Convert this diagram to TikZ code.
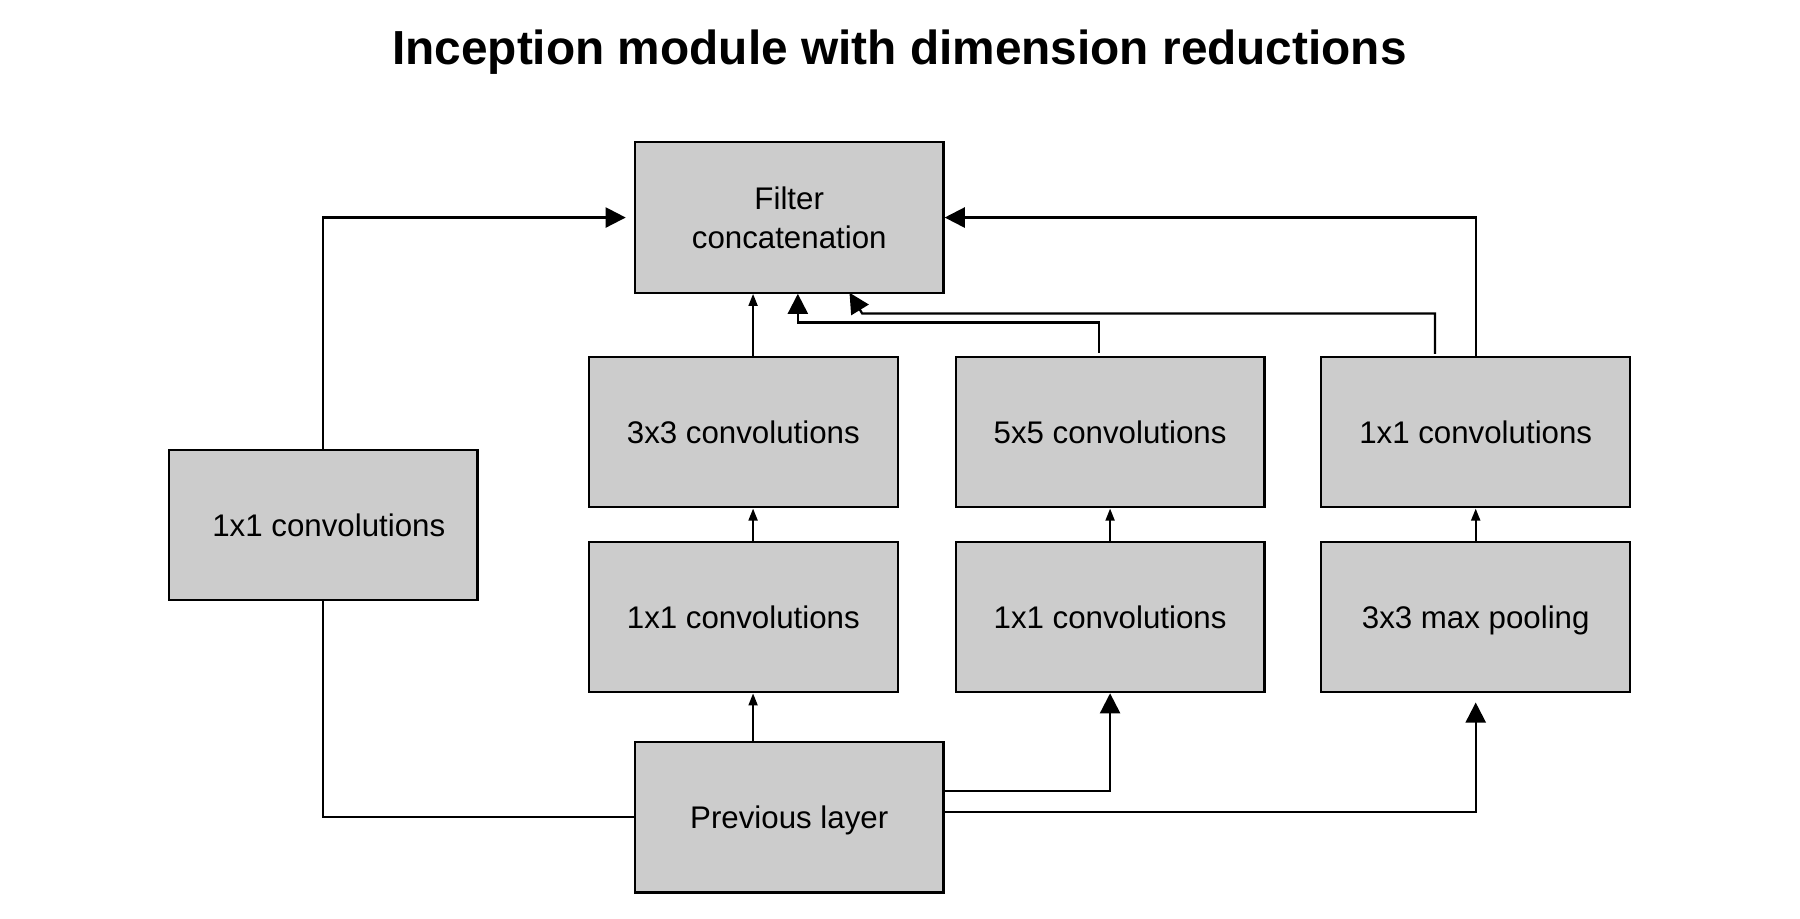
\documentclass[tikz,border=0pt]{standalone}
\usepackage{fontspec}
\setmainfont{Liberation Sans}
\usetikzlibrary{arrows.meta}
\definecolor{boxgray}{RGB}{204,204,204}
\begin{document}
\begin{tikzpicture}[x=0.02cm,y=-0.02cm,
  box/.style={draw=black, line width=1.1pt, fill=boxgray, minimum width=5.38cm,
    minimum height=2.62cm, inner sep=0pt, align=center,
    font=\fontsize{15.5}{19.3}\selectfont},
  onebox/.style={box, text height=11.1pt, text depth=0pt},
  conn/.style={line width=1.1pt, line join=miter},
  small/.style={conn, -{Triangle[length=6pt,width=4.4pt]}},
  big/.style={conn, -{Triangle[length=10pt,width=10pt]}},
  titlestyle/.style={font=\fontsize{23.7}{28}\selectfont\bfseries, inner sep=0pt}]
\useasboundingbox (0,0) rectangle (1568,800);
\node[titlestyle] (t) at (783.5,45) {Inception module with dimension reductions};
\node[box] (fc) at (687.5,189.5) {Filter\\concatenation};
\node[onebox] (c33) at (647.5,376.5) {3x3 convolutions};
\node[onebox] (c55) at (967,376.5) {5x5 convolutions};
\node[onebox] (c11d) at (1285.5,376.5) {1x1 convolutions};
\node[onebox] (r33) at (647.5,537.5) {1x1 convolutions};
\node[onebox] (r55) at (967,537.5) {1x1 convolutions};
\node[onebox] (pool) at (1285.5,537.5) {3x3 max pooling};
\node[onebox] (c11a) at (281.5,457.5) {\hspace*{5.6pt}1x1 convolutions};
\node[onebox] (prev) at (687.5,712) {Previous layer};
% helper coordinates
\coordinate (xa) at (656,0);
\coordinate (xb) at (957,0);
\coordinate (xc) at (1250,0);
\coordinate (xd) at (695,0);
\coordinate (ya) at (0,689);
\coordinate (yb) at (0,707);
\coordinate (yc) at (0,281);
\coordinate (yd) at (0,273);
\coordinate (kink) at (751,273);
\coordinate (tipd) at (740,255);
% left branch
\draw[conn] (prev.west) -| (c11a.south);
\draw[big, shorten >=0.14cm] (c11a.north) |- (fc.west);
% 3x3 branch
\draw[small] (prev.north -| xa) -- (r33.south -| xa);
\draw[small] (r33.north -| xa) -- (c33.south -| xa);
\draw[small] (c33.north -| xa) -- (fc.south -| xa);
% 5x5 branch
\draw[big] (prev.east |- ya) -| (r55.south);
\draw[small] (r55.north) -- (c55.south);
\draw[big] ([yshift=1.5pt]c55.north -| xb) -- (xb |- yc) -- (xd |- yc) -- (fc.south -| xd);
% pooling branch
\draw[big, shorten >=0.16cm] (prev.east |- yb) -| (pool.south);
\draw[small] (pool.north) -- (c11d.south);
\draw[big] (c11d.north) |- (fc.east);
\draw[big] ([yshift=1pt]c11d.north -| xc) -- (xc |- yd) -- (kink) -- (tipd);
\end{tikzpicture}
\end{document}
